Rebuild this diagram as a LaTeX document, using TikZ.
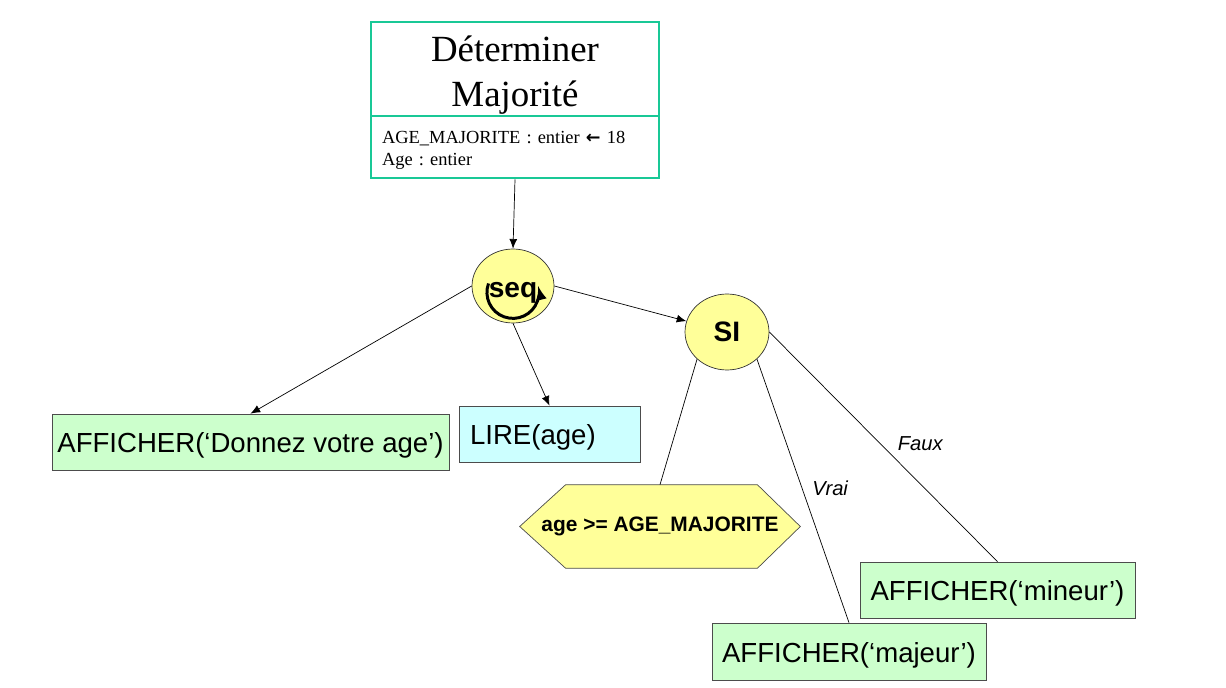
\documentclass[tikz,border=0pt]{standalone}
\usepackage{fontspec}
\setmainfont{Liberation Sans}
\newfontfamily\timesfont{Liberation Serif}
\newfontfamily\symfont{DejaVu Sans}
\usepackage{tikz}
\usetikzlibrary{positioning,calc}
\usetikzlibrary{arrows,arrows.meta,shapes.geometric,backgrounds}
\definecolor{titregreen}{RGB}{25,200,150}
\definecolor{seqyellow}{RGB}{255,255,153}
\definecolor{boxgreen}{RGB}{204,255,204}
\definecolor{boxcyan}{RGB}{204,255,255}
\frenchspacing
\tikzset{
	instr/.style={draw=black!70,fill=boxgreen,minimum height=1.12cm,inner sep=0pt,
		text height=13.5pt,text depth=1pt,font=\fontsize{15.7}{18}\selectfont},
	ctrl/.style={draw=black!80,fill=seqyellow,ellipse,inner sep=0pt,
		font=\bfseries\fontsize{16}{18}\selectfont},
	lbl/.style={inner sep=0pt,font=\itshape\fontsize{11.5}{14}\selectfont},
	fleche/.style={-{Latex[length=5.5pt,width=4.5pt]}}
}
\begin{document}
\begin{tikzpicture}[x=0.02cm,y=-0.02cm]
	\useasboundingbox (0,0) rectangle (1226,688);
	
	% header: name of the algorithm and its declarations
	\node (titre) at (515,69) [draw=titregreen,line width=1.6pt,minimum width=5.76cm,
		minimum height=1.88cm,inner ysep=0pt,align=center,
		font=\timesfont\fontsize{21}{25.6}\selectfont] {\rule{0pt}{22pt}Déterminer\\Majorité};
	\node (attrs) at (515,147) [draw=titregreen,line width=1.6pt,minimum width=5.76cm,
		minimum height=1.24cm,inner xsep=0.22cm,text width=5.32cm,align=left,
		font=\timesfont\fontsize{10.5}{12.5}\selectfont]
		{\rule{0pt}{11pt}AGE\_MAJORITE : entier {\symfont\bfseries\fontsize{10}{12}\selectfont ←} 18\\Age : entier};
	
	% control nodes
	\node (seq) at (513,286) [ctrl,minimum width=1.64cm,minimum height=1.48cm,
		text height=12.6pt,text depth=0pt] {seq};
	\draw[-latex,line width=1.7pt] ([shift={(-24.5,-2.5)}]seq.center)
		arc[start angle=-160,end angle=-374,radius=26];
	\node (si) at (727,332) [ctrl,minimum width=1.68cm,minimum height=1.52cm] {SI};
	
	% instructions
	\node (donnez) at (250.5,442) [instr,minimum width=7.94cm] {AFFICHER(‘Donnez votre age’)};
	\node (lire) at (549.5,434) [instr,fill=boxcyan,minimum width=3.62cm,inner xsep=0.22cm,
		text width=3.18cm,align=left] {LIRE(age)};
	\node (cond) at (660,526.5) [minimum width=5.6cm,minimum height=1.66cm,inner sep=0pt,
		font=\bfseries\fontsize{11.9}{14}\selectfont] {age >= AGE\_MAJORITE};
	% hexagon behind the condition
	\begin{scope}[on background layer]
		\draw[draw=black!70,fill=seqyellow] (cond.west) -- ($(cond.north west)+(46,0)$)
			-- ($(cond.north east)+(-43,0)$) -- (cond.east) -- ($(cond.south east)+(-43,0)$)
			-- ($(cond.south west)+(46,0)$) -- cycle;
	\end{scope}
	\node (mineur) at (997.5,590) [instr,minimum width=5.5cm] {AFFICHER(‘mineur’)};
	\node (majeur) at (849,651.5) [instr,minimum width=5.48cm,minimum height=1.14cm] {AFFICHER(‘majeur’)};
	
	% connectors
	\draw[fleche] (attrs.south) -- (seq.north);
	\draw[fleche] (seq.east) -- (si);
	\draw[fleche] (seq.west) -- (donnez.north);
	\draw[fleche] (seq.south) -- (lire.north);
	\draw (si.south west) -- (cond.north);
	\draw (si.south east) -- node[pos=0.49,right=0.2cm,lbl] {Vrai} (majeur.north);
	\draw (si.east) -- node[pos=0.487,right=0.34cm,lbl] {Faux} (mineur.north);
	
\end{tikzpicture}
\end{document}
